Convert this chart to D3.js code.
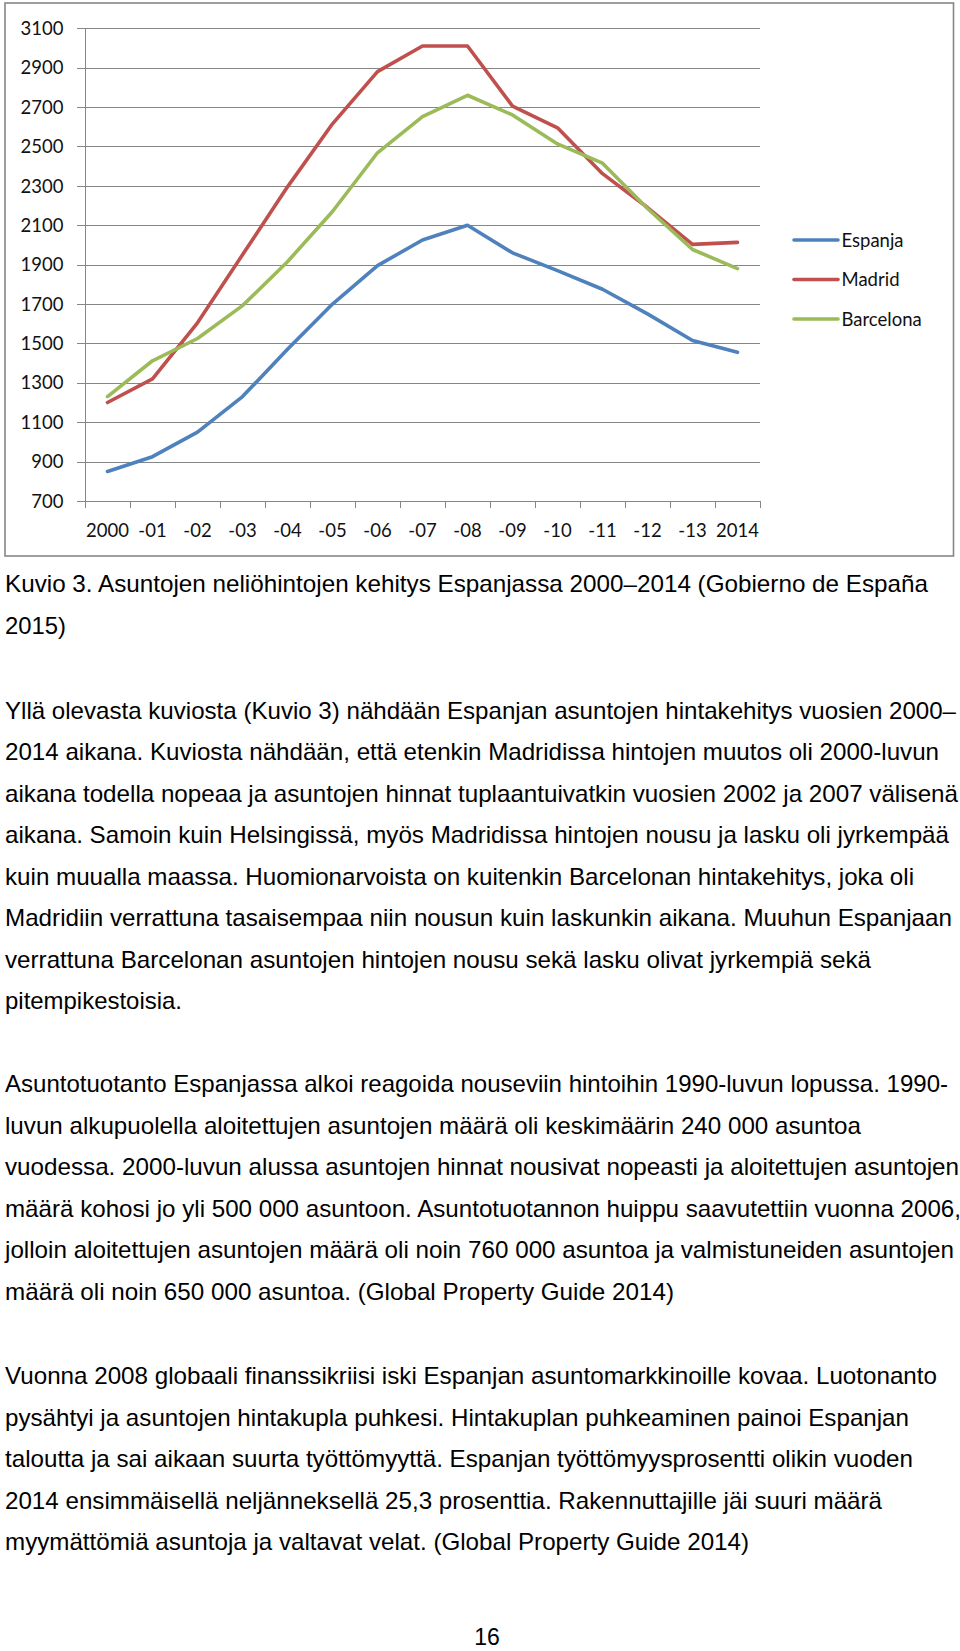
<!DOCTYPE html>
<html>
<head>
<meta charset="utf-8">
<script src="https://cdn.jsdelivr.net/npm/d3@7"></script>
<style>
  html, body { margin: 0; padding: 0; background: #fff; }
  svg { display: block; }
</style>
</head>
<body>
<script>
// ---- data ----
const years = ["2000","-01","-02","-03","-04","-05","-06","-07","-08","-09","-10","-11","-12","-13","2014"];
const espanja   = [850, 925, 1050, 1230, 1470, 1700, 1895, 2025, 2100, 1960, 1870, 1775, 1650, 1515, 1455];
const madrid    = [1200, 1320, 1605, 1950, 2295, 2615, 2880, 3010, 3010, 2705, 2595, 2362, 2190, 2003, 2013];
const barcelona = [1230, 1412, 1525, 1692, 1915, 2170, 2468, 2652, 2760, 2660, 2513, 2415, 2185, 1977, 1880];
const seriesNames = ["Espanja", "Madrid", "Barcelona"];
const yTicks = [700, 900, 1100, 1300, 1500, 1700, 1900, 2100, 2300, 2500, 2700, 2900, 3100];

const caption = [
  "Kuvio 3. Asuntojen neliöhintojen kehitys Espanjassa 2000–2014 (Gobierno de España",
  "2015)"
];
const para1 = [
  "Yllä olevasta kuviosta (Kuvio 3) nähdään Espanjan asuntojen hintakehitys vuosien 2000–",
  "2014 aikana. Kuviosta nähdään, että etenkin Madridissa hintojen muutos oli 2000-luvun",
  "aikana todella nopeaa ja asuntojen hinnat tuplaantuivatkin vuosien 2002 ja 2007 välisenä",
  "aikana. Samoin kuin Helsingissä, myös Madridissa hintojen nousu ja lasku oli jyrkempää",
  "kuin muualla maassa. Huomionarvoista on kuitenkin Barcelonan hintakehitys, joka oli",
  "Madridiin verrattuna tasaisempaa niin nousun kuin laskunkin aikana. Muuhun Espanjaan",
  "verrattuna Barcelonan asuntojen hintojen nousu sekä lasku olivat jyrkempiä sekä",
  "pitempikestoisia."
];
const para2 = [
  "Asuntotuotanto Espanjassa alkoi reagoida nouseviin hintoihin 1990-luvun lopussa. 1990-",
  "luvun alkupuolella aloitettujen asuntojen määrä oli keskimäärin 240 000 asuntoa",
  "vuodessa. 2000-luvun alussa asuntojen hinnat nousivat nopeasti ja aloitettujen asuntojen",
  "määrä kohosi jo yli 500 000 asuntoon. Asuntotuotannon huippu saavutettiin vuonna 2006,",
  "jolloin aloitettujen asuntojen määrä oli noin 760 000 asuntoa ja valmistuneiden asuntojen",
  "määrä oli noin 650 000 asuntoa. (Global Property Guide 2014)"
];
const para3 = [
  "Vuonna 2008 globaali finanssikriisi iski Espanjan asuntomarkkinoille kovaa. Luotonanto",
  "pysähtyi ja asuntojen hintakupla puhkesi. Hintakuplan puhkeaminen painoi Espanjan",
  "taloutta ja sai aikaan suurta työttömyyttä. Espanjan työttömyysprosentti olikin vuoden",
  "2014 ensimmäisellä neljänneksellä 25,3 prosenttia. Rakennuttajille jäi suuri määrä",
  "myymättömiä asuntoja ja valtavat velat. (Global Property Guide 2014)"
];
const pageNumber = "16";

// ---- layout (not data) ----
const W = 960, H = 1651;
const colors = ["#4F81BD", "#C0504D", "#9BBB59"];
const values = [espanja, madrid, barcelona];

const svg = d3.select("body").append("svg").attr("width", W).attr("height", H);

// chart frame
svg.append("rect").attr("x", 5).attr("y", 3).attr("width", 948.5).attr("height", 553)
  .attr("fill", "#fff").attr("stroke", "#878787").attr("stroke-width", 1.6);

const x = d3.scaleBand().domain(years).range([85, 760]).paddingInner(0).paddingOuter(0);
const y = d3.scaleLinear().domain([700, 3100]).range([501, 28.3]);
const cx = d => x(d) + x.bandwidth() / 2;

const g = svg.append("g");

// gridlines + y labels
g.selectAll("line.grid").data(yTicks).join("line")
  .attr("x1", 77).attr("x2", 760)
  .attr("y1", d => Math.round(y(d)) + 0.5).attr("y2", d => Math.round(y(d)) + 0.5)
  .attr("stroke", "#868686").attr("stroke-width", 1);
g.selectAll("text.ylab").data(yTicks).join("text")
  .attr("x", 63.5).attr("y", d => y(d)).attr("dy", "0.36em")
  .attr("text-anchor", "end")
  .style("font-family", "Lato, 'Open Sans', sans-serif").style("font-size", "18.5px").attr("fill", "#111")
  .text(d => d);

// y axis line
g.append("line").attr("x1", 85.5).attr("x2", 85.5).attr("y1", y(3100)).attr("y2", y(700))
  .attr("stroke", "#868686").attr("stroke-width", 1);

// x ticks at category boundaries
const bounds = years.map(d => x(d)).concat([x.range()[1]]);
g.selectAll("line.xt").data(bounds).join("line")
  .attr("x1", d => Math.round(d) + 0.5).attr("x2", d => Math.round(d) + 0.5)
  .attr("y1", y(700)).attr("y2", y(700) + 7)
  .attr("stroke", "#868686").attr("stroke-width", 1);
g.selectAll("text.xlab").data(years).join("text")
  .attr("x", d => cx(d)).attr("y", 536.5)
  .attr("text-anchor", "middle")
  .style("font-family", "Lato, 'Open Sans', sans-serif").style("font-size", "18.5px").attr("fill", "#111")
  .text(d => d);

// series lines
const line = d3.line().x((v, i) => cx(years[i])).y(v => y(v));
values.forEach((vals, k) => {
  g.append("path").attr("d", line(vals))
    .attr("fill", "none").attr("stroke", colors[k]).attr("stroke-width", 3.6)
    .attr("stroke-linejoin", "round").attr("stroke-linecap", "round");
});

// legend
const legY = [240, 279.5, 319];
seriesNames.forEach((n, k) => {
  g.append("line").attr("x1", 794).attr("x2", 838).attr("y1", legY[k]).attr("y2", legY[k])
    .attr("stroke", colors[k]).attr("stroke-width", 3.6).attr("stroke-linecap", "round");
  g.append("text").attr("x", 841.5).attr("y", legY[k]).attr("dy", "0.36em")
    .style("font-family", "Lato, 'Open Sans', sans-serif").style("font-size", "18.5px").attr("fill", "#111")
    .text(n);
});

// body text
function block(lines, y0, ends) {
  lines.forEach((t, i) => {
    const el = svg.append("text").attr("x", 5).attr("y", y0 + i * 41.5)
      .style("font-family", "'Liberation Sans', Arial, sans-serif").style("font-size", "24px")
      .attr("fill", "#000").text(t);
    const target = ends[i] - 5;
    const nat = el.node().getComputedTextLength();
    if (Math.abs(nat - target) / target < 0.06) {
      el.attr("textLength", target).attr("lengthAdjust", "spacingAndGlyphs");
    }
  });
}
block(caption, 592, [928, 66]);
block(para1, 718.5, [956, 939, 958, 949, 914, 952, 871, 182]);
block(para2, 1092, [948, 861, 959, 961, 954, 674]);
block(para3, 1384, [937, 909, 913, 882, 749]);

svg.append("text").attr("x", 487).attr("y", 1645).attr("text-anchor", "middle")
  .style("font-family", "'Liberation Sans', Arial, sans-serif").style("font-size", "23px")
  .attr("fill", "#000").text(pageNumber);
</script>
</body>
</html>
